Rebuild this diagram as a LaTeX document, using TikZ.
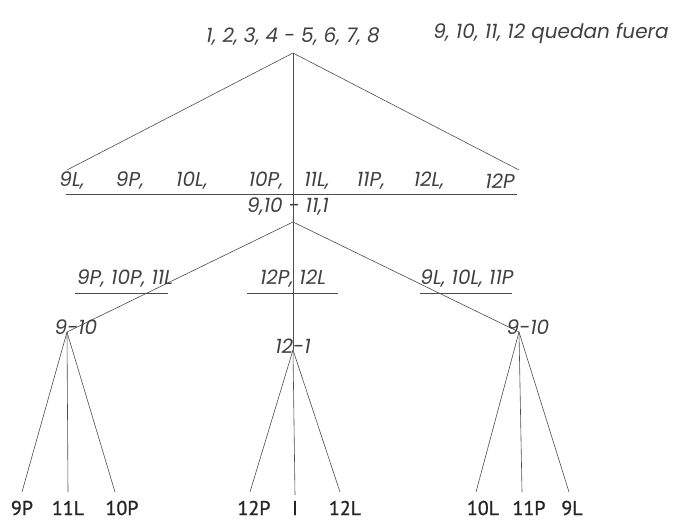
\documentclass[tikz,border=0pt]{standalone}
\usepackage{fontspec}
\setsansfont{Poppins}
\newfontfamily\leaffont[FakeBold=1.2]{PT Sans}
\begin{document}
\begin{tikzpicture}[x=1pt,y=-1pt,
  lbl/.style={font=\sffamily\itshape\fontsize{20}{22}\selectfont, text=black!75, inner sep=0pt},
  leaf/.style={font=\leaffont\fontsize{20}{22}\selectfont, text=black!85, inner sep=0pt},
  ln/.style={draw=black!70, line width=0.6pt}]
\useasboundingbox (0,0) rectangle (686,524);
% top
\node[lbl] (top) at (293,37) {1, 2, 3, 4 - 5, 6, 7, 8};
\node[lbl] (fuera) at (551,33) {9, 10, 11, 12 quedan fuera};
\coordinate (a0) at (293,53);
\coordinate (l1) at (67,170);
\coordinate (r1) at (519,170);
\draw[ln] (l1) -- (a0) -- (r1);
% level 1 row
\node[lbl] (c1) at (72,181) {9L,};
\node[lbl] (c2) at (130,181) {9P,};
\node[lbl] (c3) at (192,181) {10L,};
\node[lbl] (c4) at (266,181) {10P,};
\node[lbl] (c5) at (317,181) {11L,};
\node[lbl] (c6) at (371,181) {11P,};
\node[lbl] (c7) at (429,181) {12L,};
\node[lbl] (c8) at (500,181) {12P};
\coordinate (h1a) at (66,194);
\coordinate (h1b) at (517,194);
\draw[ln] (h1a) -- (h1b);
\node[lbl] (mid) at (288,207) {9,10 - 11,1};
\coordinate (a1) at (293,222);
% level 2
\coordinate (n1) at (67,332);
\coordinate (n2) at (293,350);
\coordinate (n3) at (519,332);
\draw[ln] (a0) -- (n2);
\draw[ln] (a1) -- (n1);
\draw[ln] (a1) -- (n3);
\node[lbl] (g1) at (125,279) {9P, 10P, 11L};
\node[lbl] (g2) at (293,279) {12P, 12L};
\node[lbl] (g3) at (467,279) {9L, 10L, 11P};
\coordinate (u1a) at (75,293); \coordinate (u1b) at (168,293);
\coordinate (u2a) at (247,293); \coordinate (u2b) at (338,293);
\coordinate (u3a) at (420,293); \coordinate (u3b) at (512,293);
\draw[ln] (u1a) -- (u1b);
\draw[ln] (u2a) -- (u2b);
\draw[ln] (u3a) -- (u3b);
\node[lbl] (k1) at (76,327) {9-10};
\node[lbl] (k2) at (293,346) {12-1};
\node[lbl] (k3) at (528,327) {9-10};
% leaves
\node[leaf] (p1) at (22,508) {9P};
\node[leaf] (p2) at (68,508) {11L};
\node[leaf] (p3) at (122,508) {10P};
\node[leaf] (p4) at (254,508) {12P};
\node[leaf] (p5) at (295,508) {I};
\node[leaf] (p6) at (345,508) {12L};
\node[leaf] (p7) at (483,508) {10L};
\node[leaf] (p8) at (529,508) {11P};
\node[leaf] (p9) at (572,508) {9L};
\coordinate (e1) at (22,492); \coordinate (e2) at (68,492); \coordinate (e3) at (115,492);
\coordinate (e4) at (250,492); \coordinate (e5) at (295,495); \coordinate (e6) at (340,492);
\coordinate (e7) at (476,492); \coordinate (e8) at (522,492); \coordinate (e9) at (569,492);
\foreach \e in {e1,e2,e3} \draw[ln] (n1) -- (\e);
\foreach \e in {e4,e5,e6} \draw[ln] (n2) -- (\e);
\foreach \e in {e7,e8,e9} \draw[ln] (n3) -- (\e);
\end{tikzpicture}
\end{document}
